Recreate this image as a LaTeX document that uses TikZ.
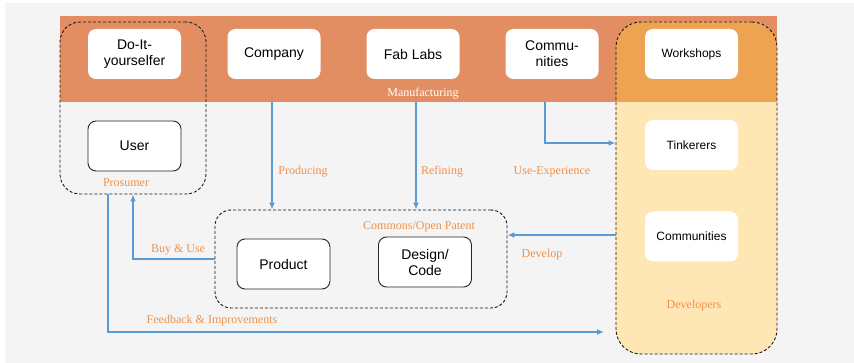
\documentclass[tikz,border=0pt]{standalone}
\usepackage{fontspec}
\setmainfont{Liberation Serif}
\setsansfont{Liberation Sans}
\usetikzlibrary{arrows.meta,calc}
\definecolor{bggray}{HTML}{F4F4F4}
\definecolor{bandorange}{HTML}{E38E62}
\definecolor{devorange}{HTML}{EDA352}
\definecolor{devyellow}{HTML}{FFE7B5}
\definecolor{labelorange}{HTML}{F0914A}
\definecolor{flowblue}{HTML}{5B9BD5}
\begin{document}
\begin{tikzpicture}[x=1pt, y=-1pt,
    actor/.style={fill=white, rounded corners=8pt, minimum width=93pt,
      minimum height=50pt, align=center, inner sep=0pt,
      font=\sffamily\fontsize{14}{16}\selectfont},
    smallactor/.style={actor, font=\sffamily\fontsize{12}{14}\selectfont},
    framed/.style={actor, draw=black!85, line width=0.9pt},
    group/.style={draw=black!90, line width=0.9pt, dash pattern=on 3pt off 2pt,
      inner sep=0pt},
    flow/.style={draw=flowblue, line width=1.4pt,
      -{Latex[length=7pt,width=6pt]}},
    tag/.style={text=labelorange, font=\fontsize{12}{14}\selectfont, inner sep=1pt}]

    % --- background and manufacturing band -----------------------------
    \fill[bggray] (5,3) rectangle (854,363);
    \node[fill=bandorange, minimum width=717pt, minimum height=86pt,
          inner sep=0pt] (band) at (418.5,59) {};
    \node[text=white, font=\fontsize{12}{14}\selectfont] (manuf) at (423,94)
      {Manufacturing};

    % Developers area, two tones inside the rounded frame
    \begin{scope}
      \clip[rounded corners=25pt] (616,22) rectangle (777,354);
      \fill[devyellow] (616,16) rectangle (777,354);
      \fill[devorange] (616,16) rectangle (777,102);
    \end{scope}

    % --- dashed groups --------------------------------------------------
    \node[group, rounded corners=20pt, minimum width=146pt,
          minimum height=172pt] (prosumer) at (133,108) {};
    \node[group, rounded corners=16pt, minimum width=292pt,
          minimum height=98pt] (commons) at (361,259) {};
    \node[group, rounded corners=25pt, minimum width=161pt,
          minimum height=332pt] (developers) at (696.5,188) {};

    % --- actors ---------------------------------------------------------
    \node[actor] (diy) at (134.5,54) {Do-It-\\yourselfer};
    \node[actor] (company) at (274,54) {Company};
    \node[actor] (fablabs) at (413,54) {Fab Labs};
    \node[actor] (commtop) at (552,54) {Commu-\\nities};
    \node[smallactor] (workshops) at (691.5,54) {Workshops};
    \node[smallactor] (tinkerers) at (691.5,145) {Tinkerers};
    \node[smallactor] (commright) at (691.5,236.5) {Communities};
    \node[framed] (user) at (134.5,146) {User};
    \node[framed] (product) at (283.5,264) {Product};
    \node[framed] (design) at (425,262) {Design/\\Code};

    % --- flows ----------------------------------------------------------
    \coordinate (fbend) at (604,332);
    \draw[flow] ([xshift=-2pt]company.south |- band.south)
      -- ([xshift=-2pt]company.south |- commons.north);
    \draw[flow] ([xshift=3pt]fablabs.south |- band.south)
      -- ([xshift=3pt]fablabs.south |- commons.north);
    \draw[flow] ([xshift=-7pt]commtop.south |- band.south)
      |- ([yshift=2pt]tinkerers -| developers.west);
    \draw[flow] ([yshift=1.5pt]commright -| developers.west)
      -- ([yshift=1.5pt]commright -| commons.east);
    \draw[flow] (commons.west) -| (prosumer.south);
    \draw[flow] ([xshift=-25pt]prosumer.south) |- (fbend);

    % --- labels ---------------------------------------------------------
    \node[tag] (prosumertag) at (126,182.5) {Prosumer};
    \node[tag] (producing) at (303,171.5) {Producing};
    \node[tag] (refining) at (442,171.5) {Refining};
    \node[tag] (useexp) at (552,171.5) {Use-Experience};
    \node[tag] (commonstag) at (419,226.5) {Commons/Open Patent};
    \node[tag] (buyuse) at (178,249.5) {Buy \& Use};
    \node[tag] (develop) at (542,254.5) {Develop};
    \node[tag] (devtag) at (694,305.5) {Developers};
    \node[tag] (feedback) at (212,320.5) {Feedback \& Improvements};

    \useasboundingbox (0,0) rectangle (854,363);
  \end{tikzpicture}
\end{document}
